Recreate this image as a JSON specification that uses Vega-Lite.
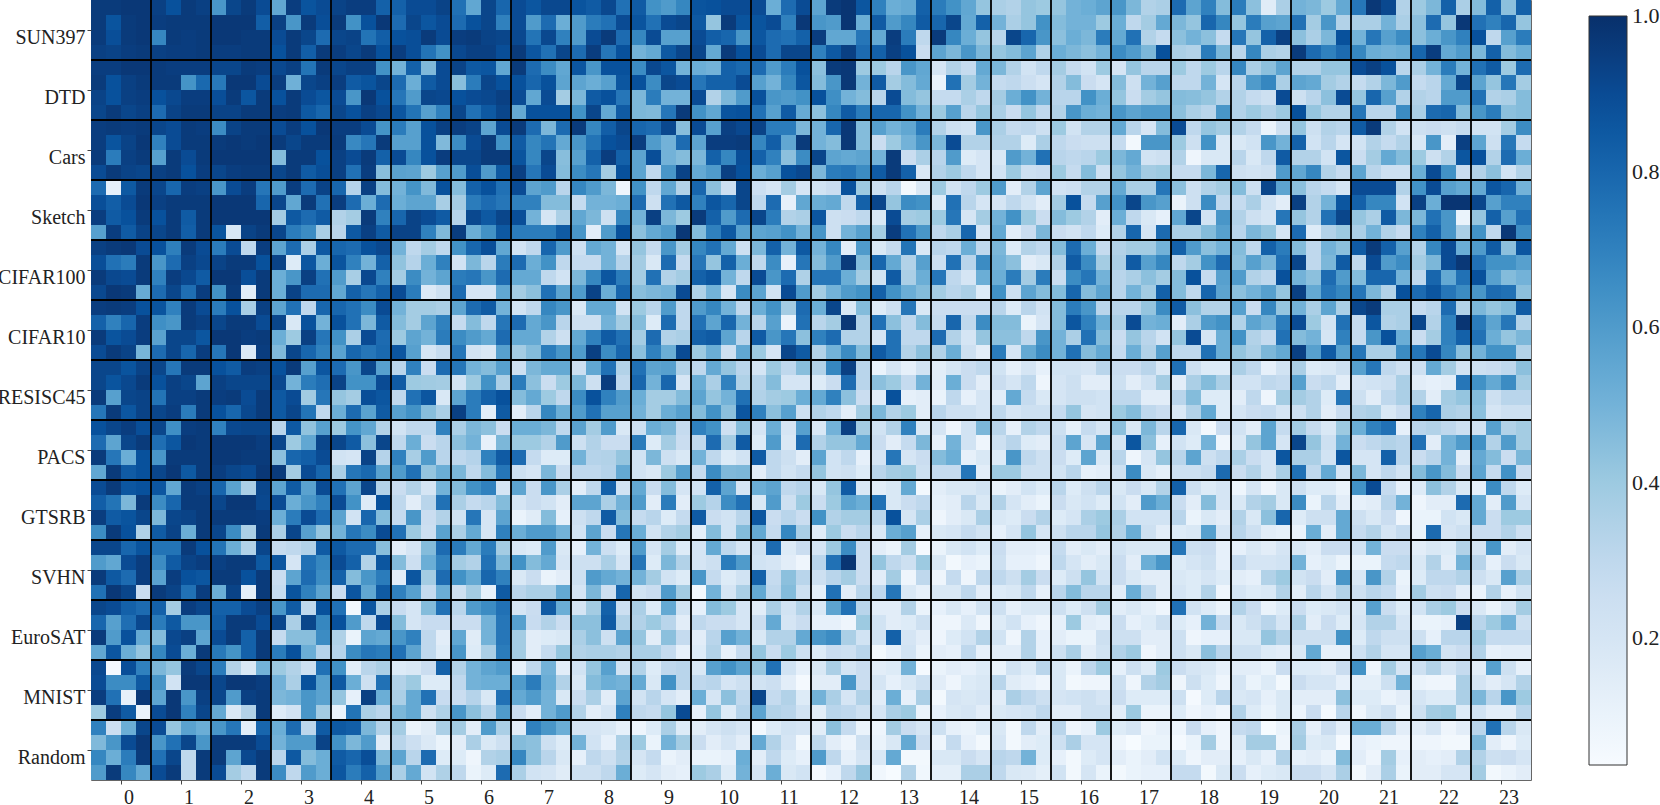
{"$schema":"https://vega.github.io/schema/vega-lite/v6.json","width":1440,"height":780,"autosize":{"type":"none"},"padding":{"left":91,"top":0,"right":129,"bottom":25},"background":"white","config":{"view":{"stroke":"#666","strokeWidth":1}},"datasets":{"cells":[
{"row":0,"v":[96,96,97,97,94,88,96,94,62,92,96,90,55,95,87,90,93,95,95,82,82,90,90,93,76,55,92,80,90,86,91,91,87,84,91,76,84,64,60,68,87,88,90,90,90,52,78,90,56,96,98,86,70,52,54,82,72,64,55,42,36,34,42,40,42,50,52,56,62,48,34,36,78,56,70,46,72,44,15,36,50,48,40,54,74,97,91,34,40,48,82,36,46,82,44,82]},
{"row":1,"v":[96,87,96,97,95,96,96,96,97,97,97,83,94,62,96,89,96,64,88,97,78,92,86,90,78,88,92,70,90,60,78,52,60,72,76,90,87,76,90,92,85,42,96,87,87,90,70,97,62,60,98,52,84,60,68,84,80,92,54,82,50,36,42,64,46,50,50,40,52,30,38,54,48,42,80,68,42,72,58,56,76,38,62,34,36,36,50,36,44,78,42,97,76,70,80,42]},
{"row":2,"v":[96,89,96,97,68,96,95,96,97,97,96,96,90,96,92,78,92,93,75,83,88,89,96,90,95,96,93,92,91,75,91,70,60,90,96,78,68,90,58,58,90,83,80,62,86,78,76,82,95,55,55,74,54,95,72,30,96,68,52,42,32,92,80,62,44,52,48,72,54,76,34,28,44,50,44,28,74,42,82,94,44,36,48,88,50,74,58,66,44,52,62,70,88,30,58,72]},
{"row":3,"v":[94,93,95,96,94,95,95,96,95,95,96,96,88,96,83,96,95,92,96,88,95,89,75,64,91,94,94,89,96,86,76,92,78,95,74,88,50,54,85,92,92,54,96,88,90,78,92,92,70,85,94,78,82,94,88,26,56,48,62,48,42,46,56,35,52,48,44,50,66,60,48,88,36,34,72,48,32,68,36,34,96,78,70,78,68,52,50,52,80,95,54,60,48,82,46,52]},
{"row":4,"v":[95,95,97,97,96,95,95,95,92,92,96,95,91,94,75,96,92,94,94,64,50,82,47,90,93,85,86,55,96,78,66,55,86,62,88,88,66,91,86,50,52,50,82,79,78,60,72,88,44,96,97,40,40,32,62,55,20,34,28,54,48,34,22,30,38,28,22,40,20,42,32,32,40,30,40,32,68,36,44,56,34,34,42,42,90,94,88,32,36,50,72,50,76,84,40,78]},
{"row":5,"v":[96,88,94,96,96,96,63,79,73,97,97,90,95,51,92,94,95,84,87,92,78,52,84,90,45,72,92,88,88,80,88,56,56,52,58,86,88,66,92,90,74,82,82,90,58,50,68,86,46,62,97,50,84,38,46,54,10,76,38,50,28,30,25,20,34,46,26,20,46,24,50,58,30,30,50,20,32,60,68,36,56,54,38,34,28,34,48,60,28,32,54,92,56,42,74,38]},
{"row":6,"v":[93,88,94,95,88,91,95,95,89,96,86,96,88,96,90,86,90,62,97,88,74,60,92,91,88,90,91,94,90,55,90,38,48,84,88,74,48,72,50,50,90,34,48,60,88,62,60,64,88,65,50,46,32,90,46,42,28,28,36,30,38,52,64,50,32,32,64,52,42,26,38,42,46,45,42,34,34,28,24,90,24,32,44,90,42,80,58,34,34,32,60,60,76,34,36,46]},
{"row":7,"v":[92,96,92,94,78,93,96,96,93,93,96,96,95,96,85,80,92,88,94,91,86,75,58,70,92,76,85,92,54,88,88,88,64,92,54,84,48,47,74,96,64,55,87,88,76,58,84,53,44,68,84,72,80,80,64,50,40,58,32,42,36,26,42,30,34,62,52,50,62,56,60,60,44,36,32,62,34,40,34,40,88,42,34,34,74,32,32,66,36,78,80,46,62,72,44,46]},
{"row":8,"v":[95,96,95,96,92,90,96,95,66,93,96,96,90,95,88,97,95,95,90,63,72,58,88,94,95,93,56,90,96,78,48,78,96,68,83,92,80,78,91,45,90,58,94,91,93,72,72,48,50,80,97,46,58,50,55,72,34,24,22,62,36,28,30,24,40,22,34,34,54,32,20,46,90,30,42,38,34,28,10,24,42,24,34,32,84,96,34,22,24,26,24,28,22,22,38,66]},
{"row":9,"v":[95,87,93,97,70,90,96,96,96,97,96,97,96,92,96,96,96,67,74,96,58,58,88,47,66,90,96,64,84,68,75,54,62,75,88,90,95,60,50,78,56,95,95,96,68,83,55,96,50,46,97,46,26,40,50,62,48,90,34,34,34,34,16,36,30,26,24,24,28,6,62,62,40,24,64,18,18,22,62,50,82,22,32,20,22,34,28,34,18,62,14,94,56,24,74,28]},
{"row":10,"v":[96,72,94,96,58,96,90,96,97,97,97,97,46,96,96,88,94,90,96,82,90,68,88,95,92,92,96,96,87,68,92,45,58,82,95,82,56,89,50,46,48,82,68,89,82,70,44,66,92,56,54,56,50,96,26,36,32,60,16,20,18,60,50,76,32,30,32,40,48,54,22,24,34,8,18,18,32,18,30,84,34,34,22,86,26,38,54,46,40,24,34,86,88,34,78,52]},
{"row":11,"v":[90,96,93,92,94,96,88,95,92,95,96,96,92,96,84,89,94,76,95,45,57,56,40,58,60,89,60,85,94,74,90,46,66,74,38,88,56,30,62,93,54,60,94,88,52,58,88,91,48,72,74,66,84,96,82,18,34,40,30,20,22,40,24,26,40,28,46,24,42,50,38,40,28,28,48,80,24,22,24,60,55,68,34,28,56,32,24,24,52,90,64,26,34,44,22,34]},
{"row":12,"v":[78,12,85,96,92,80,95,94,62,90,95,74,60,95,78,93,80,33,94,46,50,63,47,88,46,82,88,76,90,56,60,32,68,60,48,8,64,30,55,34,80,44,25,92,25,20,38,20,22,26,88,40,24,32,6,18,40,22,30,40,60,14,34,56,22,24,34,34,54,36,36,74,44,24,34,38,46,24,92,56,44,32,28,20,90,90,90,34,64,90,58,54,54,86,80,50]},
{"row":13,"v":[89,83,90,97,94,96,96,96,97,97,97,80,92,55,96,76,95,78,52,78,52,56,56,37,38,72,78,74,70,70,46,46,28,50,50,52,78,24,76,85,70,86,80,92,30,78,12,55,52,54,30,82,92,42,66,64,16,76,32,20,20,30,22,14,38,88,28,58,64,92,62,58,10,24,66,30,28,36,22,14,94,34,50,86,82,68,68,22,94,52,98,98,92,58,70,70]},
{"row":14,"v":[95,84,88,96,88,96,84,96,97,97,97,97,38,85,78,84,34,38,96,70,80,93,90,84,33,91,85,92,89,50,20,36,55,48,24,68,50,94,48,40,96,82,60,78,92,72,34,36,86,24,26,30,18,90,38,40,40,74,20,38,50,64,40,26,46,40,34,14,52,30,18,12,55,92,22,62,34,24,20,74,42,34,76,92,42,36,84,48,48,76,62,10,42,82,58,76]},
{"row":15,"v":[58,95,84,93,92,96,83,96,87,19,93,96,92,72,66,37,32,85,94,84,93,93,70,47,95,52,64,85,72,72,72,84,62,14,60,88,44,54,60,97,46,70,85,58,56,58,64,50,62,24,50,58,38,95,76,62,30,36,80,20,54,14,26,48,26,22,30,16,34,80,20,78,36,36,46,58,32,48,42,20,78,16,34,40,36,50,34,28,70,82,62,36,64,30,97,66]},
{"row":16,"v":[94,96,97,90,88,71,96,90,72,90,30,95,56,78,36,85,80,78,88,91,50,30,38,30,64,80,89,55,22,30,80,60,24,54,50,20,42,28,62,38,68,76,54,24,48,82,50,85,50,68,14,60,18,28,75,18,32,30,52,30,48,16,34,30,46,78,52,28,34,38,38,50,82,60,44,50,46,30,82,72,46,30,50,44,84,96,82,58,34,68,90,52,60,84,44,86]},
{"row":17,"v":[89,76,72,96,62,78,94,91,93,96,96,88,93,16,86,52,87,70,50,82,43,33,52,70,22,48,32,72,78,52,64,30,28,28,50,33,38,18,78,28,74,42,82,52,30,66,12,74,46,60,96,46,80,54,34,58,24,76,32,66,50,44,14,18,34,84,66,38,36,84,58,68,30,38,64,78,44,58,48,76,92,30,48,84,30,90,60,66,38,48,90,97,76,64,64,58]},
{"row":18,"v":[96,91,90,96,70,95,91,84,97,97,89,96,52,62,94,76,60,37,91,70,38,66,50,56,72,74,62,78,54,54,30,22,48,68,86,72,38,76,34,38,82,86,50,30,90,62,78,35,74,74,52,38,22,84,36,52,74,30,20,52,52,72,38,72,26,66,74,50,32,36,44,38,46,88,28,58,60,34,30,88,50,44,78,60,46,80,80,50,30,80,54,76,88,58,46,50]},
{"row":19,"v":[91,97,96,53,78,92,77,95,64,96,14,96,52,93,78,78,55,82,74,82,90,72,17,24,78,20,20,55,38,44,76,56,60,93,52,80,45,48,50,90,35,50,20,66,56,22,90,60,38,50,60,64,82,64,52,46,38,32,36,16,64,24,56,46,46,80,46,56,32,50,38,82,46,30,80,56,44,50,58,42,94,54,74,68,74,48,34,88,78,86,74,66,62,78,76,44]},
{"row":20,"v":[95,96,95,88,87,70,96,90,72,88,37,94,56,76,30,80,80,76,66,90,50,38,38,36,56,78,84,50,22,30,68,62,18,54,54,22,40,32,60,30,60,68,50,30,52,64,38,78,52,92,18,46,16,24,74,18,26,26,26,26,32,16,32,22,46,72,62,32,32,32,42,66,84,44,34,34,58,26,68,42,50,36,56,36,92,96,36,36,28,32,78,34,48,42,46,84]},
{"row":21,"v":[82,70,80,95,65,62,96,94,92,96,96,90,92,18,88,50,88,76,48,84,46,38,56,70,28,46,30,74,78,54,62,32,24,24,50,38,46,16,78,30,76,56,80,50,32,58,10,76,32,38,97,34,76,44,30,46,28,80,30,66,46,46,10,20,46,86,70,52,36,90,50,52,14,36,60,64,34,56,50,72,90,40,22,76,28,86,34,36,92,34,70,98,72,56,74,34]},
{"row":22,"v":[96,87,90,95,57,92,92,86,97,97,95,96,52,40,94,74,64,36,90,78,40,56,50,72,66,60,54,78,54,54,34,24,54,70,84,76,38,78,34,36,82,84,56,32,84,62,74,44,70,78,34,34,20,76,30,30,78,34,20,42,44,44,30,62,50,36,76,46,26,42,32,22,42,90,20,52,64,34,28,76,46,50,20,70,28,62,88,52,26,38,70,82,76,52,42,48]},
{"row":23,"v":[90,96,93,49,78,92,80,95,74,97,17,95,47,92,80,70,57,80,74,79,86,58,20,28,74,22,18,58,38,46,72,62,60,94,66,80,44,70,52,90,40,52,24,55,40,20,92,84,34,50,66,46,84,76,34,44,34,52,24,14,72,20,54,66,50,76,46,54,28,52,34,58,30,30,76,52,42,36,48,54,94,58,84,58,74,36,36,66,74,90,68,44,50,64,64,34]},
{"row":24,"v":[92,92,87,93,92,74,96,96,88,84,95,94,88,96,58,86,78,62,92,58,32,70,26,78,74,50,46,58,24,48,54,54,25,55,76,34,76,56,58,34,30,54,42,32,20,40,30,45,34,68,94,32,10,20,12,22,14,20,26,30,22,12,20,12,22,22,20,32,26,26,32,18,76,24,16,16,36,30,12,22,36,16,18,24,58,74,30,24,24,54,38,22,24,26,30,44]},
{"row":25,"v":[92,87,91,96,88,94,92,56,94,92,92,92,91,50,72,77,93,64,64,90,84,40,39,38,22,40,64,36,72,44,26,40,48,24,95,30,80,50,80,20,52,36,70,35,33,46,20,20,16,26,78,32,44,40,28,50,14,52,26,14,26,20,30,8,20,24,14,14,24,14,22,38,14,36,46,36,22,22,30,28,58,26,30,14,20,22,24,36,14,12,14,74,64,54,66,38]},
{"row":26,"v":[96,58,92,93,75,94,94,96,95,96,90,96,85,90,39,74,42,38,89,86,30,76,86,18,56,72,82,88,46,54,40,30,66,88,70,60,52,38,38,46,56,42,50,76,34,38,40,52,54,70,44,26,14,88,12,14,10,30,12,20,14,54,28,18,20,24,24,22,30,30,14,14,32,46,16,16,14,30,8,38,38,34,16,74,24,14,30,36,34,14,38,42,46,24,32,32]},
{"row":27,"v":[74,96,86,93,92,95,72,96,88,80,91,96,85,92,75,30,52,78,57,84,58,64,45,36,94,72,14,84,14,32,68,52,60,76,58,58,50,38,52,58,46,64,44,86,70,44,58,24,34,30,14,38,48,34,40,14,32,24,24,20,30,20,24,24,28,42,20,22,40,46,30,26,18,34,54,16,20,26,28,20,24,34,14,26,34,36,18,26,70,80,36,34,44,20,24,24]},
{"row":28,"v":[88,92,95,89,92,65,95,96,70,91,92,92,32,85,43,58,40,63,55,34,22,30,30,70,36,48,44,26,52,52,48,30,57,38,60,18,24,52,48,28,70,64,24,46,20,52,20,58,18,50,94,38,22,34,70,18,20,8,22,48,32,12,34,30,24,12,28,20,44,18,48,32,80,18,6,26,22,14,56,28,38,28,18,40,52,70,76,12,32,34,30,24,22,58,34,38]},
{"row":29,"v":[78,56,92,96,77,86,97,96,97,97,97,95,92,40,55,92,92,84,44,92,30,52,26,32,44,50,12,48,40,40,34,60,24,34,26,26,72,16,38,26,30,78,38,84,16,60,18,78,34,42,42,54,26,14,28,48,12,50,22,8,24,32,16,14,28,56,20,56,20,86,44,12,22,16,50,8,18,42,56,20,92,42,24,50,26,30,34,32,76,14,50,60,64,34,60,38]},
{"row":30,"v":[96,74,52,88,62,96,96,96,97,97,96,96,44,80,83,90,22,20,93,33,70,37,60,32,30,33,70,84,78,28,16,16,50,33,34,42,22,48,24,18,50,30,16,22,84,30,24,14,56,22,30,12,20,74,20,26,46,52,12,18,16,62,30,24,26,16,56,18,32,8,20,42,32,56,24,30,36,26,20,86,36,36,22,86,20,20,82,32,26,32,50,14,54,46,26,48]},
{"row":31,"v":[55,96,84,88,92,97,85,96,95,92,90,97,96,38,90,80,36,74,79,57,60,76,42,52,48,30,46,74,24,20,48,26,30,30,33,54,22,18,40,58,28,66,47,48,14,30,22,28,42,22,24,16,32,38,40,24,28,28,74,14,40,40,24,24,22,32,12,14,24,66,18,13,24,24,28,78,26,34,20,36,76,30,54,20,48,20,30,22,46,62,46,26,56,28,64,26]},
{"row":32,"v":[90,96,86,88,86,55,96,94,80,57,36,92,56,84,57,90,76,56,92,34,26,34,20,50,46,64,70,20,56,26,62,36,14,30,82,22,54,26,46,20,22,82,56,20,52,56,30,33,18,42,84,18,14,18,54,6,14,18,18,22,10,14,22,16,32,16,24,32,18,26,18,34,82,24,16,20,8,20,8,18,24,16,16,10,64,90,28,12,16,44,34,18,12,66,30,16]},
{"row":33,"v":[83,75,48,96,66,80,96,96,92,97,97,91,90,52,62,70,90,64,16,88,30,14,32,76,36,28,32,46,20,26,22,14,56,56,36,50,60,14,72,14,40,33,66,76,18,60,24,40,26,40,56,52,76,18,26,30,12,14,32,18,34,20,14,10,26,18,22,16,22,14,60,52,26,14,46,20,18,34,38,18,66,10,32,14,12,14,32,50,8,14,14,78,54,14,60,20]},
{"row":34,"v":[95,84,87,92,48,92,93,96,96,96,96,95,52,72,90,78,57,22,80,46,28,62,26,34,22,74,20,56,10,15,46,12,24,30,84,46,28,32,16,28,84,26,22,32,86,26,32,26,64,34,38,38,32,88,20,36,8,14,18,36,18,16,26,34,16,20,36,40,36,22,22,22,32,10,18,14,34,18,44,80,16,24,24,54,24,18,26,8,10,10,22,18,54,26,40,40]},
{"row":35,"v":[66,96,88,35,84,93,52,96,92,66,36,96,36,92,58,42,50,74,66,90,76,40,25,57,36,54,20,70,52,60,60,50,22,56,26,74,52,22,34,38,13,46,22,46,54,28,68,36,15,40,26,32,18,52,58,12,18,20,28,22,12,20,42,20,24,32,32,42,34,52,24,14,16,18,58,20,32,24,14,12,10,52,14,54,28,34,20,28,10,78,20,24,26,26,34,24]},
{"row":36,"v":[92,92,80,87,75,75,96,88,75,52,34,92,28,30,34,84,85,78,78,45,14,20,46,78,72,54,72,38,18,16,60,18,12,50,25,16,60,20,38,16,20,54,30,20,24,78,16,26,20,40,66,26,14,10,38,5,10,18,22,16,26,14,14,12,28,14,18,14,22,18,18,18,74,24,26,12,12,18,14,20,18,14,26,26,22,50,26,26,14,18,16,34,20,62,14,20]},
{"row":37,"v":[60,55,90,95,66,84,93,95,94,96,96,85,86,20,76,68,90,82,34,86,46,25,52,70,38,34,76,48,64,46,54,20,24,24,36,20,74,16,48,34,20,24,72,60,22,20,14,8,32,76,98,26,42,30,24,40,18,6,12,10,24,12,12,8,30,20,14,18,26,14,52,62,16,20,24,12,28,20,20,22,50,12,16,10,10,10,28,30,18,34,14,50,32,12,26,18]},
{"row":38,"v":[96,85,78,95,57,95,88,86,96,96,88,96,26,56,78,66,82,46,62,72,14,86,38,78,64,54,80,70,18,26,10,14,24,60,54,50,50,38,22,16,62,28,16,22,82,28,44,32,24,32,38,26,14,38,8,30,8,28,8,30,30,24,38,26,16,24,42,22,26,18,14,14,18,16,20,16,14,12,34,40,22,26,14,62,18,62,34,10,16,30,30,34,24,18,58,36]},
{"row":39,"v":[76,97,92,26,96,93,76,95,52,93,13,96,28,87,70,56,26,86,55,84,70,58,28,52,24,38,12,84,32,36,36,54,20,48,24,80,22,26,60,38,6,50,20,36,54,30,46,24,13,76,14,32,30,74,18,12,18,18,30,14,16,18,30,12,32,46,32,32,14,52,30,14,20,16,34,8,20,16,18,34,14,32,20,34,24,32,28,12,38,24,26,14,10,34,12,22]},
{"row":40,"v":[92,90,82,78,82,38,95,92,82,82,90,94,62,84,30,88,76,6,86,36,27,20,46,76,32,60,66,76,20,26,84,52,20,38,82,25,36,16,54,22,12,46,40,20,14,36,22,34,18,56,76,32,14,14,34,10,12,18,12,22,24,12,18,18,24,16,24,38,14,18,13,8,76,22,16,10,34,26,10,16,26,16,18,22,18,58,26,16,22,36,40,26,18,10,20,38]},
{"row":41,"v":[80,58,77,91,72,85,62,62,84,96,96,90,92,36,92,68,88,60,30,90,46,20,27,27,26,26,50,74,58,27,34,26,44,44,84,34,34,40,32,14,30,26,26,20,26,54,20,26,12,12,8,40,22,14,16,24,8,8,17,8,16,22,12,8,12,40,14,12,26,12,16,24,16,12,50,28,18,24,32,20,36,14,26,16,20,34,34,20,10,10,12,94,32,40,50,24]},
{"row":42,"v":[96,60,88,54,46,91,94,56,90,96,82,96,28,45,45,66,35,10,56,54,62,70,30,14,55,15,50,74,38,14,16,18,36,44,24,56,42,14,44,28,14,32,58,50,18,34,34,54,62,66,36,22,22,82,20,14,8,16,22,34,22,8,34,12,14,10,10,24,24,24,14,14,24,8,12,12,18,18,42,34,24,24,24,64,16,30,24,24,24,12,32,32,40,28,28,28]},
{"row":43,"v":[55,86,52,42,68,90,52,96,73,63,82,96,72,88,52,33,33,66,74,72,76,56,30,16,62,16,36,72,38,14,28,42,34,36,36,34,36,36,28,12,16,34,12,28,42,26,40,24,16,26,24,32,6,12,22,10,14,12,30,12,14,14,34,12,24,36,14,22,34,40,8,14,24,18,44,32,24,24,16,14,18,54,12,12,24,34,20,20,58,52,22,26,34,12,14,14]},
{"row":44,"v":[91,5,89,70,48,42,96,92,72,34,18,50,40,34,24,76,64,14,32,36,16,18,26,82,34,50,56,60,12,30,50,14,22,42,58,22,34,16,30,32,18,58,64,56,42,76,22,12,18,36,20,26,14,16,50,5,10,14,12,16,10,22,16,32,18,10,30,40,12,24,16,40,26,20,18,12,14,14,10,26,16,16,14,26,64,8,38,20,24,34,20,28,14,58,24,12]},
{"row":45,"v":[90,66,66,85,62,22,97,97,92,97,97,95,50,36,88,58,85,52,24,76,34,40,16,16,30,50,52,52,60,72,52,34,18,46,52,50,54,18,64,32,30,32,20,24,22,25,14,5,14,14,62,26,20,12,18,24,14,8,16,18,32,15,12,8,18,6,8,8,24,8,34,38,8,24,16,8,20,10,16,6,26,20,20,12,13,13,24,50,10,8,8,36,20,14,20,34]},
{"row":46,"v":[95,76,12,97,56,97,62,94,92,60,94,96,48,50,62,57,42,12,94,52,36,54,76,27,26,33,18,76,54,60,50,18,26,36,14,56,22,32,20,14,52,20,44,30,92,28,34,16,50,36,20,34,14,52,12,36,6,20,18,20,14,36,30,24,20,22,24,20,26,16,16,16,24,5,16,32,18,20,12,18,14,14,14,44,16,16,10,14,20,16,16,36,48,32,62,40]},
{"row":47,"v":[40,95,84,10,90,97,70,92,54,18,34,96,16,22,62,38,10,75,36,32,48,54,24,35,62,44,32,60,26,14,50,60,34,14,20,70,30,28,42,90,12,42,16,33,56,34,32,22,14,32,30,24,20,36,40,10,12,18,20,14,18,20,22,30,14,14,24,24,14,40,10,10,16,8,12,8,34,16,10,18,9,26,6,32,8,18,24,10,24,38,40,16,22,14,14,32]},
{"row":48,"v":[70,25,52,92,90,42,57,52,62,74,14,80,52,78,31,84,85,83,48,34,38,10,15,36,38,14,60,36,14,70,62,52,20,20,18,12,8,16,36,16,14,20,24,20,6,16,22,20,14,44,28,10,8,38,26,20,24,12,10,16,18,6,30,14,32,8,12,40,16,20,8,12,8,26,12,8,28,30,4,10,36,12,26,14,52,52,32,14,14,20,8,14,32,76,32,18]},
{"row":49,"v":[47,62,90,97,62,76,92,62,96,96,96,90,50,60,60,93,64,48,60,15,32,25,17,10,14,36,18,24,46,44,24,16,50,22,12,36,40,10,50,38,26,14,20,14,54,34,20,6,30,14,8,24,10,18,54,26,8,28,12,6,20,6,14,16,24,36,20,20,8,4,10,10,5,10,38,8,16,38,38,8,38,16,18,5,12,10,8,8,8,8,6,6,48,14,8,16]},
{"row":50,"v":[68,52,72,96,76,92,30,96,96,56,91,96,32,85,46,52,84,80,89,48,56,32,78,16,16,8,34,36,68,44,32,18,12,30,24,34,20,28,10,14,10,10,12,52,14,30,16,12,60,30,12,20,18,54,6,6,18,18,26,20,32,30,50,16,12,6,16,20,14,10,14,22,16,8,14,14,12,18,12,34,12,14,10,46,14,8,38,12,14,12,14,34,34,24,26,20]},
{"row":51,"v":[60,96,68,54,90,96,30,96,90,38,30,96,66,30,60,52,86,72,82,60,36,54,22,35,30,10,16,78,36,22,20,15,24,24,30,52,16,20,14,12,40,36,16,50,20,52,18,22,5,12,30,42,7,4,34,7,13,13,36,36,30,18,17,13,22,6,20,10,6,10,12,12,28,28,6,18,26,12,16,18,26,26,20,36,6,14,36,10,14,14,20,20,38,6,10,14]}
],"blockEdgesX":[{"n":4},{"n":8},{"n":12},{"n":16},{"n":20},{"n":24},{"n":28},{"n":32},{"n":36},{"n":40},{"n":44},{"n":48},{"n":52},{"n":56},{"n":60},{"n":64},{"n":68},{"n":72},{"n":76},{"n":80},{"n":84},{"n":88},{"n":92}],"blockEdgesY":[{"row":3},{"row":7},{"row":11},{"row":15},{"row":19},{"row":23},{"row":27},{"row":31},{"row":35},{"row":39},{"row":43},{"row":47}]},
"layer":[
{"data":{"name":"cells"},"transform":[{"flatten":["v"]},{"window":[{"op":"row_number","as":"n"}],"groupby":["row"]}],"mark":{"type":"rect","stroke":null},"encoding":{
"x":{"field":"n","type":"ordinal","scale":{"paddingInner":0,"paddingOuter":0},"title":null,"axis":{"values":[2,6,10,14,18,22,26,30,34,38,42,46,50,54,58,62,66,70,74,78,82,86,90,94],"tickOffset":7.5,"labelOffset":7.5,"labelExpr":"floor(datum.value/4)","labelAngle":0,"labelFont":"Liberation Serif","labelFontSize":20,"labelColor":"#222","labelPadding":3,"labelBound":false,"labelFlush":false,"tickColor":"#444","tickSize":4,"domain":false,"grid":false,"labelOverlap":false}},
"y":{"field":"row","type":"ordinal","scale":{"paddingInner":0,"paddingOuter":0},"title":null,"axis":{"values":[1,5,9,13,17,21,25,29,33,37,41,45,49],"tickOffset":7.5,"labelOffset":7.5,"labelExpr":"['SUN397','DTD','Cars','Sketch','CIFAR100','CIFAR10','RESISC45','PACS','GTSRB','SVHN','EuroSAT','MNIST','Random'][floor(datum.value/4)]","labelFont":"Liberation Serif","labelFontSize":20,"labelColor":"#222","labelPadding":2,"labelBound":false,"tickColor":"#444","tickSize":4,"domain":false,"grid":false,"labelOverlap":false}},
"color":{"field":"v","type":"quantitative","scale":{"domain":[3.7,100],"range":["#f7fbff","#deebf7","#c6dbef","#9ecae1","#6baed6","#4292c6","#2171b5","#08519c","#08306b"]},"legend":{"orient":"none","legendX":1498,"legendY":16,"direction":"vertical","title":null,"type":"gradient","gradientLength":749,"gradientThickness":38,"gradientStrokeColor":"#333","gradientStrokeWidth":1,"values":[20,40,60,80,100],"labelExpr":"format(datum.value/100,'.1f')","labelFont":"Liberation Serif","labelFontSize":22,"labelColor":"#222","labelOffset":5,"labelOverlap":false,"encode":{"labels":{"update":{"baseline":{"value":"middle"}}}}}}}},
{"data":{"name":"blockEdgesX"},"mark":{"type":"rule","color":"black","strokeWidth":1.8},"encoding":{"x":{"field":"n","type":"ordinal","bandPosition":1}}},
{"data":{"name":"blockEdgesY"},"mark":{"type":"rule","color":"black","strokeWidth":1.8},"encoding":{"y":{"field":"row","type":"ordinal","bandPosition":1}}}
]}
